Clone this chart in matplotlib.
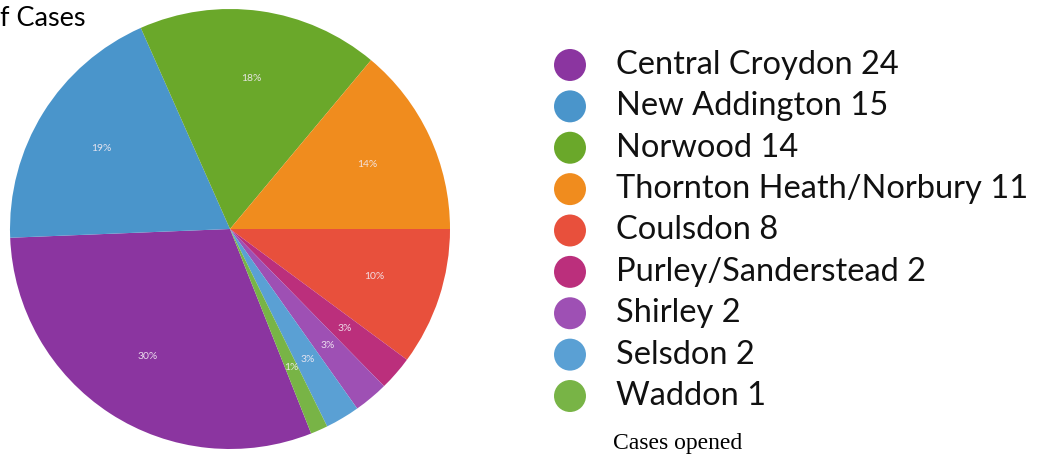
import matplotlib.pyplot as plt

areas = ["Central Croydon", "New Addington", "Norwood", "Thornton Heath/Norbury",
         "Coulsdon", "Purley/Sanderstead", "Shirley", "Selsdon", "Waddon"]
cases = [24, 15, 14, 11, 8, 2, 2, 2, 1]
colours = ["#8b35a0", "#4a95cb", "#6aa82a", "#f08c1e", "#e8503c",
           "#bb2f7c", "#9e50b4", "#5aa0d4", "#78b446"]

W, H = 1045, 458
fig = plt.figure(figsize=(W / 100, H / 100), dpi=100)

# pie: centre ~ (230, 229) px, radius ~220 px
ax = fig.add_axes([10 / W, 9 / H, 440 / W, 440 / H])
tail = sum(cases[4:]) / sum(cases) * 360
wedges, texts, autotexts = ax.pie(
    cases, colors=colours, startangle=-tail, counterclock=False,
    autopct=lambda p: "%d%%" % round(p), pctdistance=0.69,
    wedgeprops=dict(linewidth=0), textprops=dict(color="#f4ecf4", fontsize=7.5,
                                                 family="Lato", alpha=0.9))
ax.set_xlim(-1, 1)
ax.set_ylim(-1, 1)
ax.set_aspect("equal")
ax.axis("off")

# legend drawn as its own little axes, one row per area
lg = fig.add_axes([550 / W, (H - 416.7) / H, 495 / W, 372.4 / H])
rows = list(range(len(areas)))
lg.scatter([20] * len(rows), rows, s=530, c=colours, edgecolors="none")
for i, (name, n) in enumerate(zip(areas, cases)):
    lg.text(66, i, "%s %d" % (name, n), fontsize=23.5, family="Lato",
            va="center", ha="left", color="#111111")
lg.set_xlim(0, 495)
lg.set_ylim(8.5, -0.5)
lg.axis("off")

fig.text(613 / W, 1 - 444 / H, "Cases opened", fontsize=17,
         family="Liberation Serif", va="center", ha="left")
fig.text(0, 1 - 19 / H, "f Cases", fontsize=19.5, family="Lato",
         va="center", ha="left")

fig.savefig("out.png", dpi=100)
